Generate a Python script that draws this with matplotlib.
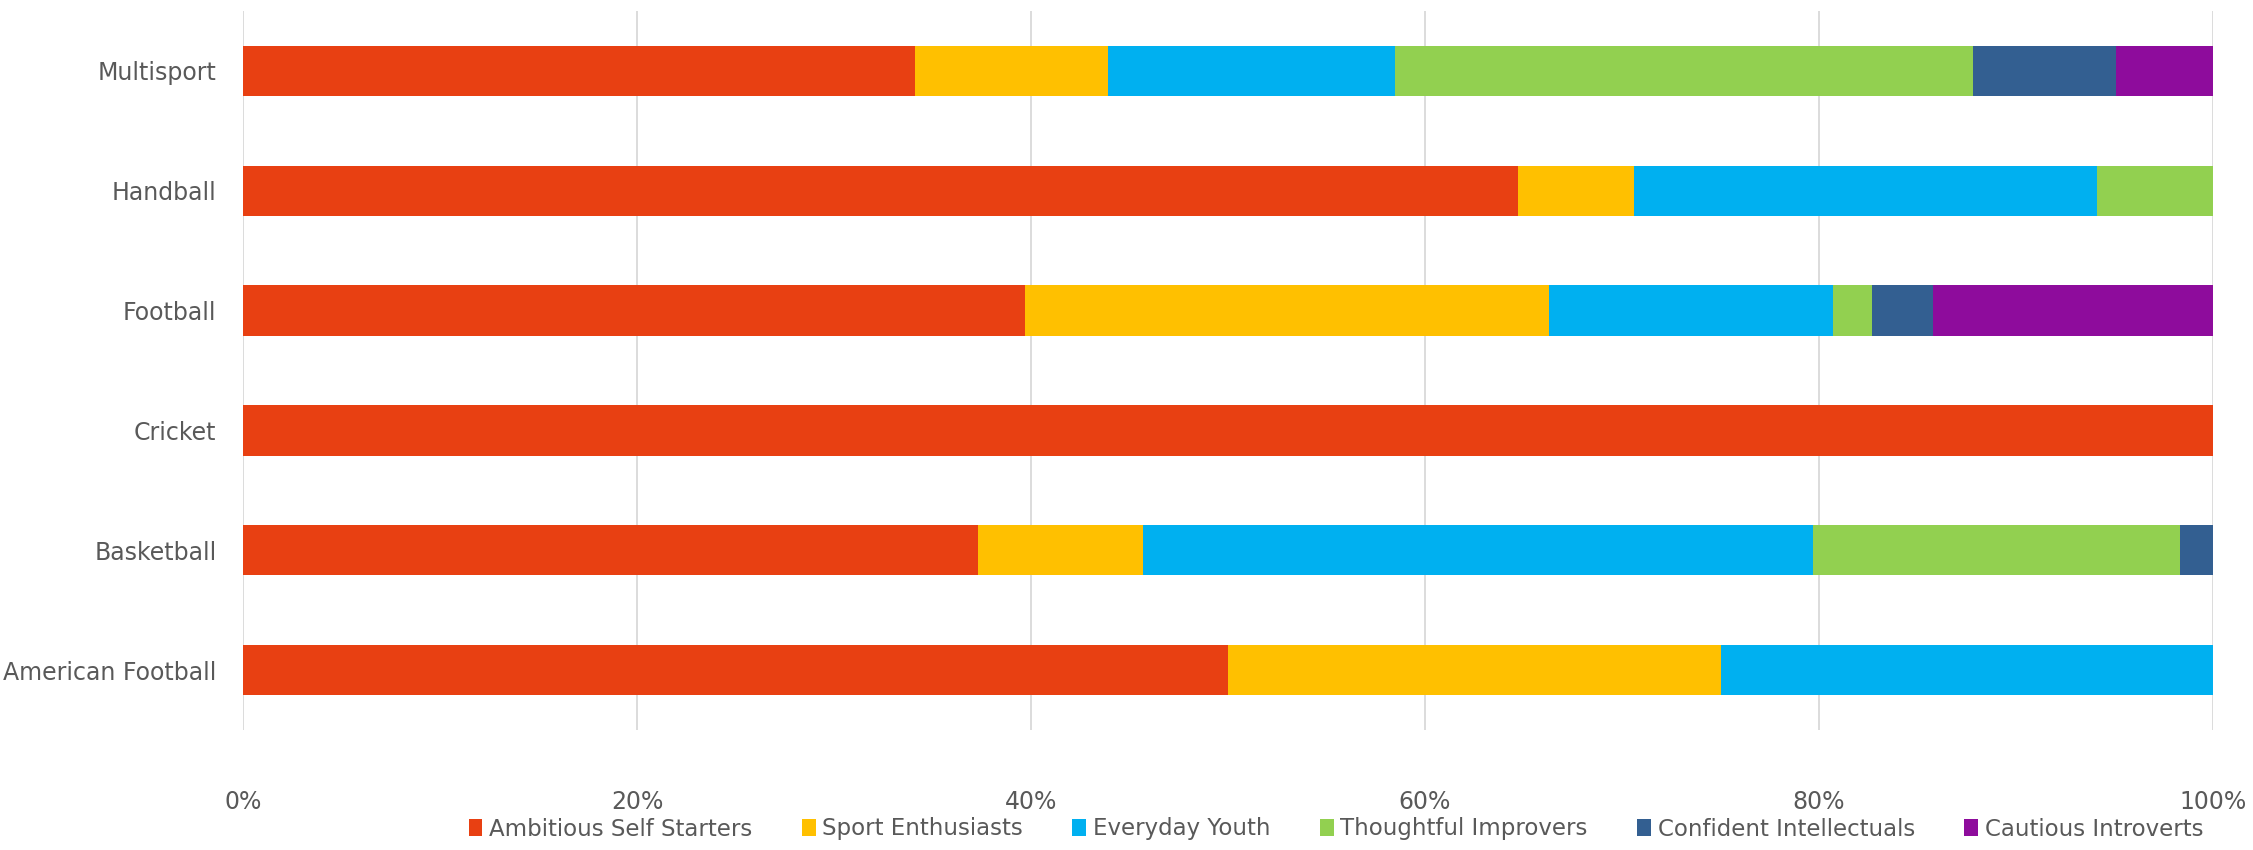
import matplotlib
matplotlib.use("Agg")
import matplotlib.pyplot as plt
import numpy as np
from matplotlib.patches import Patch

categories = ["American Football", "Basketball", "Cricket", "Football", "Handball", "Multisport"]
series_names = ["Ambitious Self Starters", "Sport Enthusiasts", "Everyday Youth",
                "Thoughtful Improvers", "Confident Intellectuals", "Cautious Introverts"]
ambitious = [50.0, 37.3, 100.0, 39.7, 64.7, 34.1]
enthusiasts = [25.0, 8.4, 0.0, 26.6, 5.9, 9.8]
everyday = [25.0, 34.0, 0.0, 14.4, 23.5, 14.6]
thoughtful = [0.0, 18.6, 0.0, 2.0, 5.9, 29.3]
confident = [0.0, 1.7, 0.0, 3.1, 0.0, 7.3]
cautious = [0.0, 0.0, 0.0, 14.2, 0.0, 4.9]
xticks = [0, 20, 40, 60, 80, 100]
xtick_labels = ["0%", "20%", "40%", "60%", "80%", "100%"]

colors = ["#E84012", "#FFC000", "#00B0F0", "#92D050", "#335F91", "#8E0C9C"]

plt.rcParams['font.family'] = ['DejaVu Sans']

fig = plt.figure(figsize=(22.53, 8.5), dpi=100)
ax = fig.add_axes([243/2253, 1-730/850, (2213-243)/2253, (730-11)/850])

data = [ambitious, enthusiasts, everyday, thoughtful, confident, cautious]
y = np.arange(len(categories))
left = np.zeros(len(categories))
for name, vals, c in zip(series_names, data, colors):
    vals = np.array(vals, dtype=float)
    ax.barh(y, vals, left=left, height=0.42, color=c, label=name, zorder=3)
    left += vals

ax.set_xlim(0, 100)
ax.set_ylim(-0.5, 5.5)
ax.set_yticks(y)
ax.set_yticklabels(categories)
ax.set_xticks(xticks)
ax.set_xticklabels(xtick_labels)
for s in ax.spines.values():
    s.set_visible(False)
ax.grid(axis='x', color='#D9D9D9', linewidth=1.3, zorder=0)
ax.tick_params(axis='both', length=0, colors='#595959', labelsize=17)
ax.tick_params(axis='y', pad=19)
ax.tick_params(axis='x', pad=43)

handles = [Patch(facecolor=c, edgecolor='none') for c in colors]
leg = fig.legend(handles, series_names, loc='center', bbox_to_anchor=(1336/2253, 1-829/850),
                 ncol=6, frameon=False, fontsize=16.5, handlelength=0.6, handleheight=0.8,
                 handletextpad=0.3, columnspacing=2.15)
for t in leg.get_texts():
    t.set_color('#595959')

fig.savefig("out.png", dpi=100)
